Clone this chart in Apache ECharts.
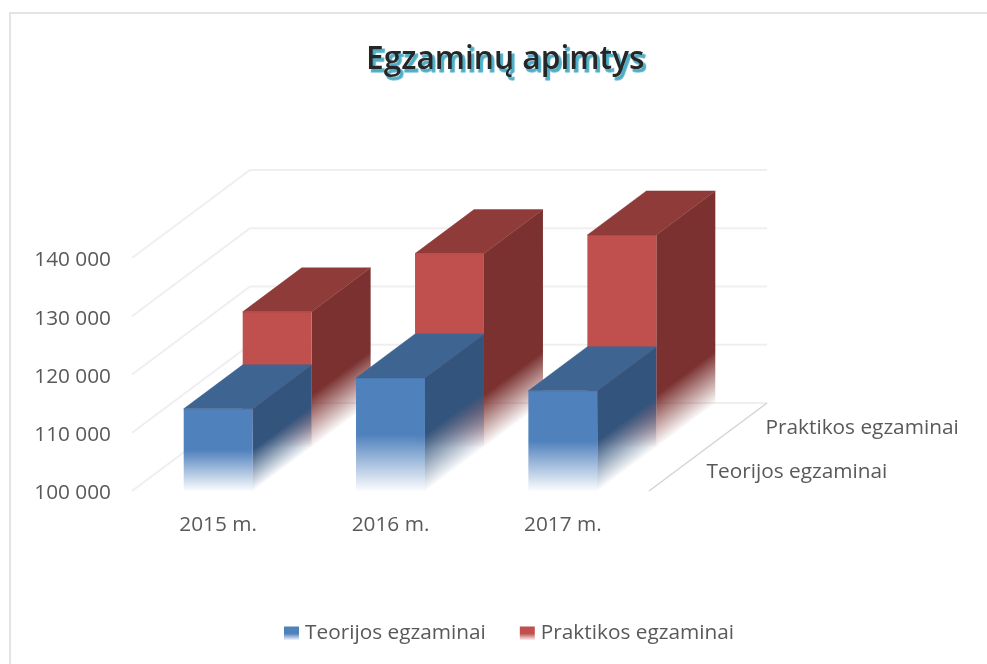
<!DOCTYPE html>
<html>
<head>
<meta charset="utf-8">
<script src="https://cdn.jsdelivr.net/npm/echarts@6/dist/echarts.min.js"></script>
<style>html,body{margin:0;padding:0;background:#fff}#c{width:987px;height:664px}</style>
</head>
<body>
<div id="c"></div>
<script>
const titleText = 'Egzaminų apimtys';
const categories = ['2015 m.', '2016 m.', '2017 m.'];
const seriesNames = ['Teorijos egzaminai', 'Praktikos egzaminai'];
const teorijos = [114100, 119400, 117200];
const praktikos = [123200, 133200, 136400];
const axisTicks = [100000, 110000, 120000, 130000, 140000];

const FONT = '"Open Sans", sans-serif';
const FS = 20.8;
const TEXT = '#595959';
const DEPTH = [118, -88];
const { LinearGradient } = echarts.graphic;

const pts = (x, y, f) => [x + DEPTH[0] * f, y + DEPTH[1] * f];
const fmt = v => String(v).replace(/\B(?=(\d{3})+$)/g, ' ');

function fade(rgb, from) {
  return [
    { offset: 0, color: `rgba(${rgb},1)` },
    { offset: from, color: `rgba(${rgb},1)` },
    { offset: 1, color: `rgba(${rgb},0.02)` }
  ];
}

function barRenderer(d0, d1, colors, fadeFn) {
  return function (params, api) {
    const base = api.coord([api.value(0), axisTicks[0]]);
    const top = api.coord([api.value(0), api.value(1)]);
    const w = api.size([1, 0])[0] * 0.4;
    const l = base[0] - w / 2, r = base[0] + w / 2;
    const A = pts(l, top[1], d0), B = pts(r, top[1], d0);
    const C = pts(r, top[1], d1), D = pts(l, top[1], d1);
    const E = pts(r, base[1], d0), F = pts(r, base[1], d1), G = pts(l, base[1], d0);
    const h = base[1] - top[1];
    const fadeFrom = fadeFn(h);
    // side face fades along a direction perpendicular to its slanted lower edge
    const sx = B[0], sy = B[1] + h * fadeFrom;
    const len = Math.hypot(DEPTH[0], DEPTH[1]);
    const nx = -DEPTH[1] / len, ny = DEPTH[0] / len;
    const dist = (E[1] - sy) * ny;
    const sideFill = new LinearGradient(sx, sy, sx + nx * dist, sy + ny * dist,
      [{ offset: 0, color: `rgba(${colors.side},1)` }, { offset: 1, color: `rgba(${colors.side},0.02)` }], true);
    return {
      type: 'group',
      children: [
        { type: 'polygon', shape: { points: [B, C, F, E] }, style: { fill: sideFill } },
        { type: 'polygon', shape: { points: [A, B, E, G] },
          style: { fill: new LinearGradient(0, 0, 0, 1, fade(colors.front, fadeFrom)) } },
        { type: 'polygon', shape: { points: [A, B, C, D] },
          style: { fill: `rgb(${colors.top})`, stroke: `rgb(${colors.top})`, lineWidth: 0.5 } }
      ]
    };
  };
}

function wallRenderer(params, api) {
  const c = api.coord([0, api.value(0)]);
  const sys = params.coordSys;
  const x0 = sys.x, y = c[1];
  const back = [x0 + DEPTH[0], y + DEPTH[1]];
  const end = [sys.x + sys.width + DEPTH[0], y + DEPTH[1]];
  return {
    type: 'polyline',
    shape: { points: [[x0, y], back, end] },
    style: { stroke: '#efefef', lineWidth: 2, fill: 'none' }
  };
}

function floorRenderer(params, api) {
  const sys = params.coordSys;
  const y = api.coord([0, axisTicks[0]])[1], x = sys.x + sys.width;
  return {
    type: 'line',
    shape: { x1: x, y1: y, x2: x + DEPTH[0], y2: y + DEPTH[1] },
    style: { stroke: '#d4d4d4', lineWidth: 1.5 }
  };
}

function depthLabelRenderer(params, api) {
  const sys = params.coordSys;
  const y = api.coord([0, axisTicks[0]])[1], x = sys.x + sys.width;
  const p = pts(x, y, 0.25 + params.dataIndex * 0.5);
  return {
    type: 'text', x: p[0] + 28, y: p[1] + 3,
    style: { text: seriesNames[params.dataIndex], font: FS + 'px ' + FONT, fill: TEXT, align: 'left', verticalAlign: 'middle' }
  };
}

const option = {
  animation: false,
  backgroundColor: '#fff',
  graphic: [{
    type: 'rect', silent: true, z: -1,
    shape: { x: 10, y: 13, width: 1400, height: 1000 },
    style: { fill: 'none', stroke: '#dcdcdc', lineWidth: 1.5 }
  }],
  title: {
    text: titleText, left: 366, top: 44, padding: 0,
    textStyle: {
      fontFamily: FONT, fontSize: 31.7, fontWeight: 600, color: '#262626',
      textBorderColor: '#fff', textBorderWidth: 1,
      textShadowColor: '#4bacc6', textShadowOffsetX: 2.5, textShadowOffsetY: 2.5, textShadowBlur: 1
    }
  },
  legend: {
    left: 284, top: 623, padding: 0, itemWidth: 15, itemHeight: 14, itemGap: 34,
    textStyle: { fontFamily: FONT, fontSize: FS, color: TEXT, padding: [0, 0, 0, 1] },
    data: [
      { name: seriesNames[0], icon: 'rect', itemStyle: { color: new LinearGradient(0, 0, 0, 1, fade('79,129,189', 0.5)) } },
      { name: seriesNames[1], icon: 'rect', itemStyle: { color: new LinearGradient(0, 0, 0, 1, fade('192,80,77', 0.5)) } }
    ]
  },
  grid: { left: 132, top: 258, width: 517, height: 233, containLabel: false },
  xAxis: {
    type: 'category', data: categories,
    axisLine: { show: false }, axisTick: { show: false },
    axisLabel: { fontFamily: FONT, fontSize: FS, color: TEXT, margin: 24 }
  },
  yAxis: {
    type: 'value', min: axisTicks[0], max: axisTicks[axisTicks.length - 1], interval: 10000,
    axisLine: { show: false }, axisTick: { show: false }, splitLine: { show: false },
    axisLabel: { fontFamily: FONT, fontSize: FS, color: TEXT, margin: 21, padding: [0, 0, 0, 0], verticalAlign: 'middle', lineHeight: 26, align: 'right', formatter: v => '{t|' + fmt(v) + '}',
      rich: { t: { fontFamily: FONT, fontSize: FS, color: TEXT, padding: [5, 0, 0, 0] } } }
  },
  series: [
    { type: 'custom', name: 'walls', silent: true, z: 1, clip: false, renderItem: wallRenderer,
      data: axisTicks.map(v => [v]), encode: { y: 0 } },
    { type: 'custom', name: 'floor', silent: true, z: 1, clip: false, renderItem: floorRenderer,
      data: [[axisTicks[0]]], encode: { y: 0 } },
    { type: 'custom', name: seriesNames[1], z: 2, clip: false,
      renderItem: barRenderer(0.5, 1, { front: '192,80,77', top: '142,59,57', side: '122,49,47' }, h => 1 - 52 / h),
      data: praktikos.map((v, i) => [i, v]), encode: { x: 0, y: 1 } },
    { type: 'custom', name: seriesNames[0], z: 3, clip: false,
      renderItem: barRenderer(0, 0.5, { front: '79,129,189', top: '62,100,146', side: '51,84,124' }, () => 0.5),
      data: teorijos.map((v, i) => [i, v]), encode: { x: 0, y: 1 } },
    { type: 'custom', name: 'depth labels', silent: true, z: 4, clip: false, renderItem: depthLabelRenderer,
      data: seriesNames.map((n, i) => [i]), encode: { x: 0 } }
  ]
};

echarts.init(document.getElementById('c'), null, { renderer: 'canvas' }).setOption(option);
</script>
</body>
</html>
